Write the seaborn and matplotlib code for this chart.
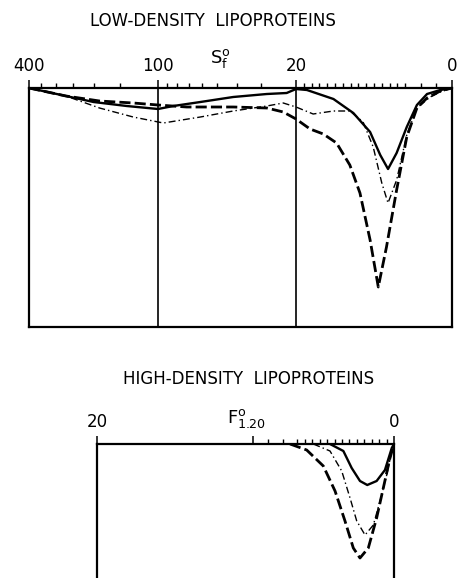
import numpy as np
import pandas as pd
import matplotlib
matplotlib.use("Agg")
import matplotlib.pyplot as plt
import seaborn as sns

# Low-density panel: Sf values and pattern depth (arbitrary units, 0 = baseline)
sf_solid = [400, 269, 200, 140, 100, 83.6, 61, 41.6, 28.1, 22.3, 20, 18.6, 15.2, 12.65,
            10.5, 9.2, 8.2, 7.1, 5.8, 4.5, 3.2, 1.5, 0]
d_solid = [0, 0.8, 1.4, 1.8, 2.1, 1.8, 1.4, 0.9, 0.6, 0.5, 0.1, 0.2, 1.1, 2.5,
           4.4, 6.7, 8.1, 6.5, 3.9, 1.7, 0.6, 0.2, 0]

sf_dash = [400, 269, 187.5, 130.6, 100, 71.6, 41.6, 28.1, 23.2, 20, 18.2, 16.5, 14.8,
           13.1, 11.8, 10.5, 9.45, 8.4, 7.1, 5.8, 4.5, 3.2, 1.5, 0]
d_dash = [0, 0.8, 1.3, 1.5, 1.7, 1.9, 1.9, 2.0, 2.4, 3.1, 4.1, 4.6, 5.5,
          7.7, 10.5, 15.2, 19.9, 15.9, 10.2, 4.9, 2.0, 1.0, 0.3, 0]

sf_dashdot = [400, 269, 187.5, 130.6, 94, 61, 41.6, 28.1, 23.2, 20, 17.8, 15.2, 13.1,
              11.4, 10.1, 9.0, 8.2, 7.1, 5.8, 4.5, 2.8, 1.5, 0]
d_dashdot = [0, 0.8, 2.0, 2.9, 3.5, 2.9, 2.3, 1.8, 1.5, 1.9, 2.6, 2.3, 2.3,
             3.4, 5.9, 9.5, 11.5, 9.2, 4.7, 2.0, 0.9, 0.4, 0]

# High-density panel: F(1.20) values and depth
f_solid = [4.31, 3.41, 2.85, 2.29, 1.80, 1.17, 0.61, 0.15, 0]
h_solid = [0, 0.7, 2.4, 3.7, 4.1, 3.7, 2.6, 0.4, 0]

f_dash = [7.0, 5.88, 4.76, 3.97, 3.30, 2.74, 2.29, 1.73, 1.17, 0.72, 0.27, 0]
h_dash = [0, 0.6, 2.2, 4.7, 7.7, 10.4, 11.4, 10.4, 7.4, 4.4, 1.4, 0]

f_dashdot = [5.43, 4.31, 3.52, 2.96, 2.51, 1.95, 1.39, 0.94, 0.49, 0.15, 0]
h_dashdot = [0, 0.7, 2.7, 5.4, 7.7, 9.1, 8.1, 5.7, 3.1, 0.7, 0]

sf_major = [400, 100, 20, 0]
sf_minor = [350, 300, 250, 200, 150, 90, 80, 70, 60, 50, 40, 30,
            19, 18, 17, 16, 15, 14, 13, 12, 11, 10, 9, 8, 7, 6, 4, 2]
f_major = [20, 0]
f_minor = [9.5, 8.5, 7.5, 6.5, 6, 5.5, 5, 4.5, 4, 3.5, 3, 2.5, 2, 1.5, 1, 0.5]

# Sf axis: log from 400 to 20 (two segments), linear from 20 to 0
seg_log = [-np.log10(400), -2.0, -np.log10(20)]
seg_pos = [0.0, 129.0, 267.0]
lin_w = 156.0


def sf_forward(s):
    # increasing in s; the axis is inverted afterwards with set_xlim(400, 0)
    s = np.asarray(s, dtype=float)
    lg = -np.log10(np.clip(s, 20, None))
    hi = np.interp(lg, seg_log, seg_pos)
    lo = seg_pos[-1] + (20 - s) * lin_w / 20
    return -np.where(s >= 20, hi, lo)


def sf_inverse(q):
    p = -np.asarray(q, dtype=float)
    lg = np.interp(np.clip(p, None, seg_pos[-1]), seg_pos, seg_log)
    hi = 10 ** (-lg)
    lo = 20 - (p - seg_pos[-1]) * 20 / lin_w
    return np.where(p <= seg_pos[-1], hi, lo)


sns.set_theme(style="white")
plt.rcParams['font.family'] = ['DejaVu Sans']
plt.rcParams['mathtext.fontset'] = 'dejavusans'
plt.rcParams['text.color'] = 'black'

W, H = 457, 578
fig = plt.figure(figsize=(W / 100, H / 100), dpi=100)

ax1 = fig.add_axes([29 / W, 1 - 327 / H, 423 / W, 239 / H])
ax2 = fig.add_axes([97 / W, 1 - 640 / H, 297 / W, 196 / H])

styles = {
    "solid": dict(linestyle="-", linewidth=1.7),
    "dash": dict(linestyle=(0, (4.0, 1.5)), linewidth=2.0),
    "dashdot": dict(linestyle=(0, (5, 2.2, 1, 2.2)), linewidth=1.0),
}

top = {"solid": (sf_solid, d_solid), "dash": (sf_dash, d_dash),
       "dashdot": (sf_dashdot, d_dashdot)}
bot = {"solid": (f_solid, h_solid), "dash": (f_dash, h_dash),
       "dashdot": (f_dashdot, h_dashdot)}

ax1.set_xscale('function', functions=(sf_forward, sf_inverse))
for name, (xs, ys) in top.items():
    df = pd.DataFrame({"x": xs, "y": ys})
    sns.lineplot(data=df, x="x", y="y", ax=ax1, color="black", sort=False,
                 estimator=None, **styles[name])
for name, (xs, ys) in bot.items():
    df = pd.DataFrame({"x": xs, "y": ys})
    sns.lineplot(data=df, x="x", y="y", ax=ax2, color="black", sort=False,
                 estimator=None, **styles[name])

for v in [100, 20]:
    ax1.axvline(v, color="black", lw=1.2)

ax1.set_xlim(400, 0)
ax1.set_ylim(23.9, 0)
ax2.set_xlim(20, 0)
ax2.set_ylim(19.6, 0)

for ax in (ax1, ax2):
    ax.set_xlabel("")
    ax.set_ylabel("")
    ax.set_yticks([])
    ax.xaxis.set_ticks_position('top')
    for sp in ax.spines.values():
        sp.set_color("black")
        sp.set_linewidth(1.6)
    ax.tick_params(axis='x', which='major', direction='out', length=5.5, width=1.1,
                   color='black', labelsize=12, pad=4, labelcolor='black')
    ax.tick_params(axis='x', which='minor', direction='out', length=3.5, width=1.0,
                   color='black')

ax1.set_xticks(sf_major)
ax1.set_xticklabels([str(v) for v in sf_major])
ax1.set_xticks(sf_minor, minor=True)

ax2.set_xticks(f_major + [9.5])
ax2.set_xticklabels([str(v) for v in f_major] + [""])
ax2.set_xticks(f_minor, minor=True)

fig.text(213 / W, 1 - 21 / H, "LOW-DENSITY  LIPOPROTEINS", ha="center", va="center",
         fontsize=12)
fig.text(220 / W, 1 - 59 / H, r"$\mathregular{S^{o}_{f}}$", ha="center", va="center",
         fontsize=13)
fig.text(249 / W, 1 - 379 / H, "HIGH-DENSITY  LIPOPROTEINS", ha="center", va="center",
         fontsize=12)
fig.text(247 / W, 1 - 419 / H, r"$\mathregular{F^{o}_{1.20}}$", ha="center", va="center",
         fontsize=13)

fig.savefig("out.png", dpi=100)
